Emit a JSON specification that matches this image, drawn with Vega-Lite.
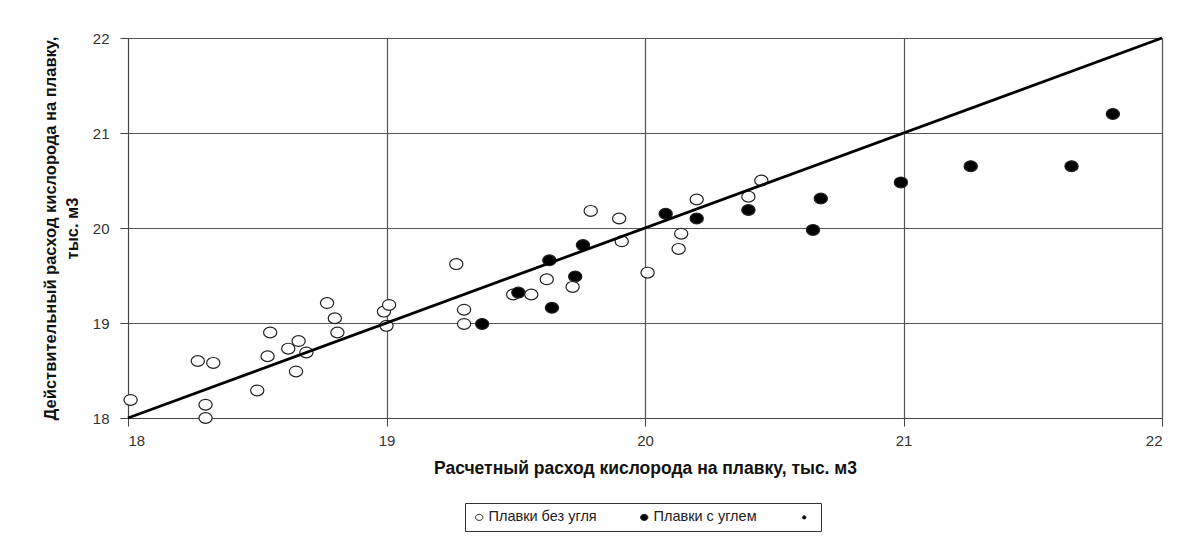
{
  "$schema": "https://vega.github.io/schema/vega-lite/v6.json",
  "width": 1034,
  "height": 380,
  "autosize": {"type": "none"},
  "padding": {"left": 128, "top": 38, "right": 30, "bottom": 123},
  "background": "white",
  "config": {
    "font": "Liberation Sans",
    "view": {"stroke": "#666", "strokeWidth": 1},
    "axis": {
      "gridColor": "#555", "gridWidth": 1.2, "gridOpacity": 1,
      "domainColor": "#444", "tickColor": "#444", "tickSize": 8,
      "labelFont": "Liberation Sans", "labelColor": "#333",
      "titleFont": "Liberation Sans", "titleFontWeight": "bold", "titleColor": "#111"
    }
  },
  "layer": [
    {
      "data": {"values": [
        {"type": "Плавки без угля", "x": 18.01, "y": 18.19},
        {"type": "Плавки без угля", "x": 18.30, "y": 18.14},
        {"type": "Плавки без угля", "x": 18.30, "y": 18.00},
        {"type": "Плавки без угля", "x": 18.27, "y": 18.60},
        {"type": "Плавки без угля", "x": 18.33, "y": 18.58},
        {"type": "Плавки без угля", "x": 18.50, "y": 18.29},
        {"type": "Плавки без угля", "x": 18.54, "y": 18.65},
        {"type": "Плавки без угля", "x": 18.55, "y": 18.90},
        {"type": "Плавки без угля", "x": 18.62, "y": 18.73},
        {"type": "Плавки без угля", "x": 18.66, "y": 18.81},
        {"type": "Плавки без угля", "x": 18.65, "y": 18.49},
        {"type": "Плавки без угля", "x": 18.69, "y": 18.69},
        {"type": "Плавки без угля", "x": 18.77, "y": 19.21},
        {"type": "Плавки без угля", "x": 18.80, "y": 19.05},
        {"type": "Плавки без угля", "x": 18.81, "y": 18.90},
        {"type": "Плавки без угля", "x": 18.99, "y": 19.12},
        {"type": "Плавки без угля", "x": 19.01, "y": 19.19},
        {"type": "Плавки без угля", "x": 19.00, "y": 18.97},
        {"type": "Плавки без угля", "x": 19.27, "y": 19.62},
        {"type": "Плавки без угля", "x": 19.30, "y": 19.14},
        {"type": "Плавки без угля", "x": 19.30, "y": 18.99},
        {"type": "Плавки без угля", "x": 19.49, "y": 19.30},
        {"type": "Плавки без угля", "x": 19.56, "y": 19.30},
        {"type": "Плавки без угля", "x": 19.62, "y": 19.46},
        {"type": "Плавки без угля", "x": 19.72, "y": 19.38},
        {"type": "Плавки без угля", "x": 19.79, "y": 20.18},
        {"type": "Плавки без угля", "x": 19.90, "y": 20.10},
        {"type": "Плавки без угля", "x": 19.91, "y": 19.86},
        {"type": "Плавки без угля", "x": 20.01, "y": 19.53},
        {"type": "Плавки без угля", "x": 20.14, "y": 19.94},
        {"type": "Плавки без угля", "x": 20.13, "y": 19.78},
        {"type": "Плавки без угля", "x": 20.20, "y": 20.30},
        {"type": "Плавки без угля", "x": 20.40, "y": 20.33},
        {"type": "Плавки без угля", "x": 20.45, "y": 20.50},
        {"type": "Плавки с углем", "x": 19.37, "y": 18.99},
        {"type": "Плавки с углем", "x": 19.51, "y": 19.32},
        {"type": "Плавки с углем", "x": 19.64, "y": 19.16},
        {"type": "Плавки с углем", "x": 19.63, "y": 19.66},
        {"type": "Плавки с углем", "x": 19.73, "y": 19.49},
        {"type": "Плавки с углем", "x": 19.76, "y": 19.82},
        {"type": "Плавки с углем", "x": 20.08, "y": 20.15},
        {"type": "Плавки с углем", "x": 20.20, "y": 20.10},
        {"type": "Плавки с углем", "x": 20.40, "y": 20.19},
        {"type": "Плавки с углем", "x": 20.68, "y": 20.31},
        {"type": "Плавки с углем", "x": 20.65, "y": 19.98},
        {"type": "Плавки с углем", "x": 20.99, "y": 20.48},
        {"type": "Плавки с углем", "x": 21.26, "y": 20.65},
        {"type": "Плавки с углем", "x": 21.65, "y": 20.65},
        {"type": "Плавки с углем", "x": 21.81, "y": 21.20}
      ]},
      "mark": {"type": "point", "filled": false, "stroke": "#222", "strokeWidth": 1.2, "size": 175, "opacity": 1},
      "encoding": {
        "x": {"field": "x", "type": "quantitative",
              "scale": {"domain": [18, 22], "nice": false, "zero": false},
              "axis": {"values": [18, 19, 20, 21, 22], "format": "d", "labelPadding": 7, "labelFontSize": 15,
                       "title": "Расчетный расход кислорода на плавку, тыс. м3", "titleFontSize": 17.5, "titlePadding": 11}},
        "y": {"field": "y", "type": "quantitative",
              "scale": {"domain": [18, 22], "nice": false, "zero": false},
              "axis": {"values": [18, 19, 20, 21, 22], "format": "d", "labelPadding": 11, "labelFontSize": 15,
                       "title": ["Действительный расход кислорода на плавку,", "тыс. м3"], "titleFontSize": 16.5, "titlePadding": 12, "titleLineHeight": 22}},
        "fill": {"field": "type", "type": "nominal",
                 "scale": {"domain": ["Плавки без угля", "Плавки с углем", "\u00a0\u00a0\u00a0\u00a0\u00a0"], "range": ["white", "black", "black"]},
                 "legend": {"orient": "none", "legendX": 337, "legendY": 465, "direction": "horizontal",
                            "title": null, "strokeColor": "#333", "padding": 7, "fillColor": "white",
                            "labelFontSize": 14.5, "labelColor": "#222", "symbolSize": 55,
                            "symbolStrokeColor": "#222", "symbolStrokeWidth": 1, "symbolOffset": 0,
                            "labelOffset": 2, "columnPadding": 40, "labelLimit": 300}},
        "shape": {"field": "type", "type": "nominal",
                  "scale": {"domain": ["Плавки без угля", "Плавки с углем", "\u00a0\u00a0\u00a0\u00a0\u00a0"],
                            "range": ["M-1,0A1,0.82 0 1,0 1,0A1,0.82 0 1,0 -1,0Z", "M-1,0A1,0.82 0 1,0 1,0A1,0.82 0 1,0 -1,0Z", "M-0.45,0A0.45,0.45 0 1,0 0.45,0A0.45,0.45 0 1,0 -0.45,0Z"]}}
      }
    },
    {
      "data": {"values": [{"x": 18, "y": 18}, {"x": 22, "y": 22}]},
      "mark": {"type": "line", "color": "black", "strokeWidth": 2.8},
      "encoding": {
        "x": {"field": "x", "type": "quantitative"},
        "y": {"field": "y", "type": "quantitative"}
      }
    }
  ]
}
